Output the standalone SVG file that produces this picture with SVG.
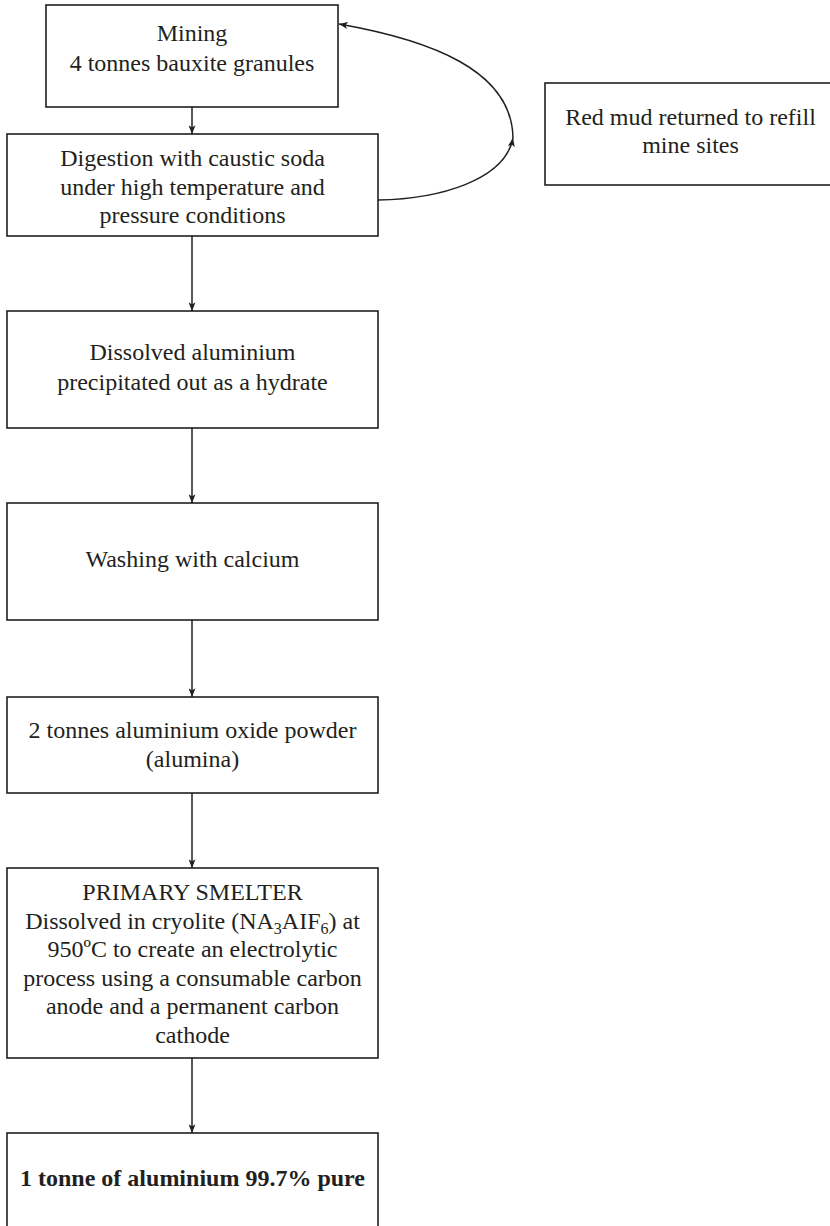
<svg xmlns="http://www.w3.org/2000/svg" width="830" height="1226" viewBox="0 0 830 1226">
<defs>
<style>
.box{fill:#fff;stroke:#231f20;stroke-width:1.6}
.t{font-family:"Liberation Serif","Times New Roman",serif;font-size:24px;fill:#231f20;text-anchor:middle}
.b{font-weight:bold}
.c{fill:none;stroke:#231f20;stroke-width:1.5}
.sub{font-size:16px}
</style>
<marker id="ah" viewBox="0 0 10 8" refX="10" refY="4" markerWidth="9" markerHeight="7" markerUnits="userSpaceOnUse" orient="auto">
<path d="M0,0 L10,4 L0,8 L2.5,4 Z" fill="#231f20"/>
</marker>
</defs>
<rect width="830" height="1226" fill="#fff"/>
<g id="connectors">
<line class="c" x1="192" y1="107" x2="192" y2="134" marker-end="url(#ah)"/>
<line class="c" x1="192" y1="236" x2="192" y2="311" marker-end="url(#ah)"/>
<line class="c" x1="192" y1="428" x2="192" y2="503" marker-end="url(#ah)"/>
<line class="c" x1="192" y1="620" x2="192" y2="697" marker-end="url(#ah)"/>
<line class="c" x1="192" y1="793" x2="192" y2="868" marker-end="url(#ah)"/>
<line class="c" x1="192" y1="1058" x2="192" y2="1133" marker-end="url(#ah)"/>
<path class="c" d="M378,200 C440,199 505,180 513,138" marker-end="url(#ah)"/>
<path class="c" d="M513,138 C512,70 430,40 339,24" marker-end="url(#ah)"/>
</g>
<g id="mining">
<rect class="box" x="46" y="5" width="292" height="102"/>
<text class="t" x="192" y="41">Mining</text>
<text class="t" x="192" y="71">4 tonnes bauxite granules</text>
</g>
<g id="digestion">
<rect class="box" x="7" y="134" width="371" height="102"/>
<text class="t" x="192.5" y="166">Digestion with caustic soda</text>
<text class="t" x="192.5" y="195">under high temperature and</text>
<text class="t" x="192.5" y="223">pressure conditions</text>
</g>
<g id="redmud">
<rect class="box" x="545" y="83" width="300" height="102"/>
<text class="t" x="690.5" y="125">Red mud returned to refill</text>
<text class="t" x="690.5" y="153">mine sites</text>
</g>
<g id="precipitate">
<rect class="box" x="7" y="311" width="371" height="117"/>
<text class="t" x="192.5" y="360">Dissolved aluminium</text>
<text class="t" x="192.5" y="390">precipitated out as a hydrate</text>
</g>
<g id="washing">
<rect class="box" x="7" y="503" width="371" height="117"/>
<text class="t" x="192.5" y="567">Washing with calcium</text>
</g>
<g id="alumina">
<rect class="box" x="7" y="697" width="371" height="96"/>
<text class="t" x="192.5" y="738">2 tonnes aluminium oxide powder</text>
<text class="t" x="192.5" y="767">(alumina)</text>
</g>
<g id="smelter">
<rect class="box" x="7" y="868" width="371" height="190"/>
<text class="t" x="192.5" y="900">PRIMARY SMELTER</text>
<text class="t" x="192.5" y="929">Dissolved in cryolite (NA<tspan class="sub" dy="5">3</tspan><tspan dy="-5">AIF</tspan><tspan class="sub" dy="5">6</tspan><tspan dy="-5">) at</tspan></text>
<text class="t" x="192.5" y="957">950ºC to create an electrolytic</text>
<text class="t" x="192.5" y="986">process using a consumable carbon</text>
<text class="t" x="192.5" y="1014">anode and a permanent carbon</text>
<text class="t" x="192.5" y="1043">cathode</text>
</g>
<g id="result">
<rect class="box" x="7" y="1133" width="371" height="120"/>
<text class="t b" x="192.5" y="1186">1 tonne of aluminium 99.7% pure</text>
</g>
</svg>
